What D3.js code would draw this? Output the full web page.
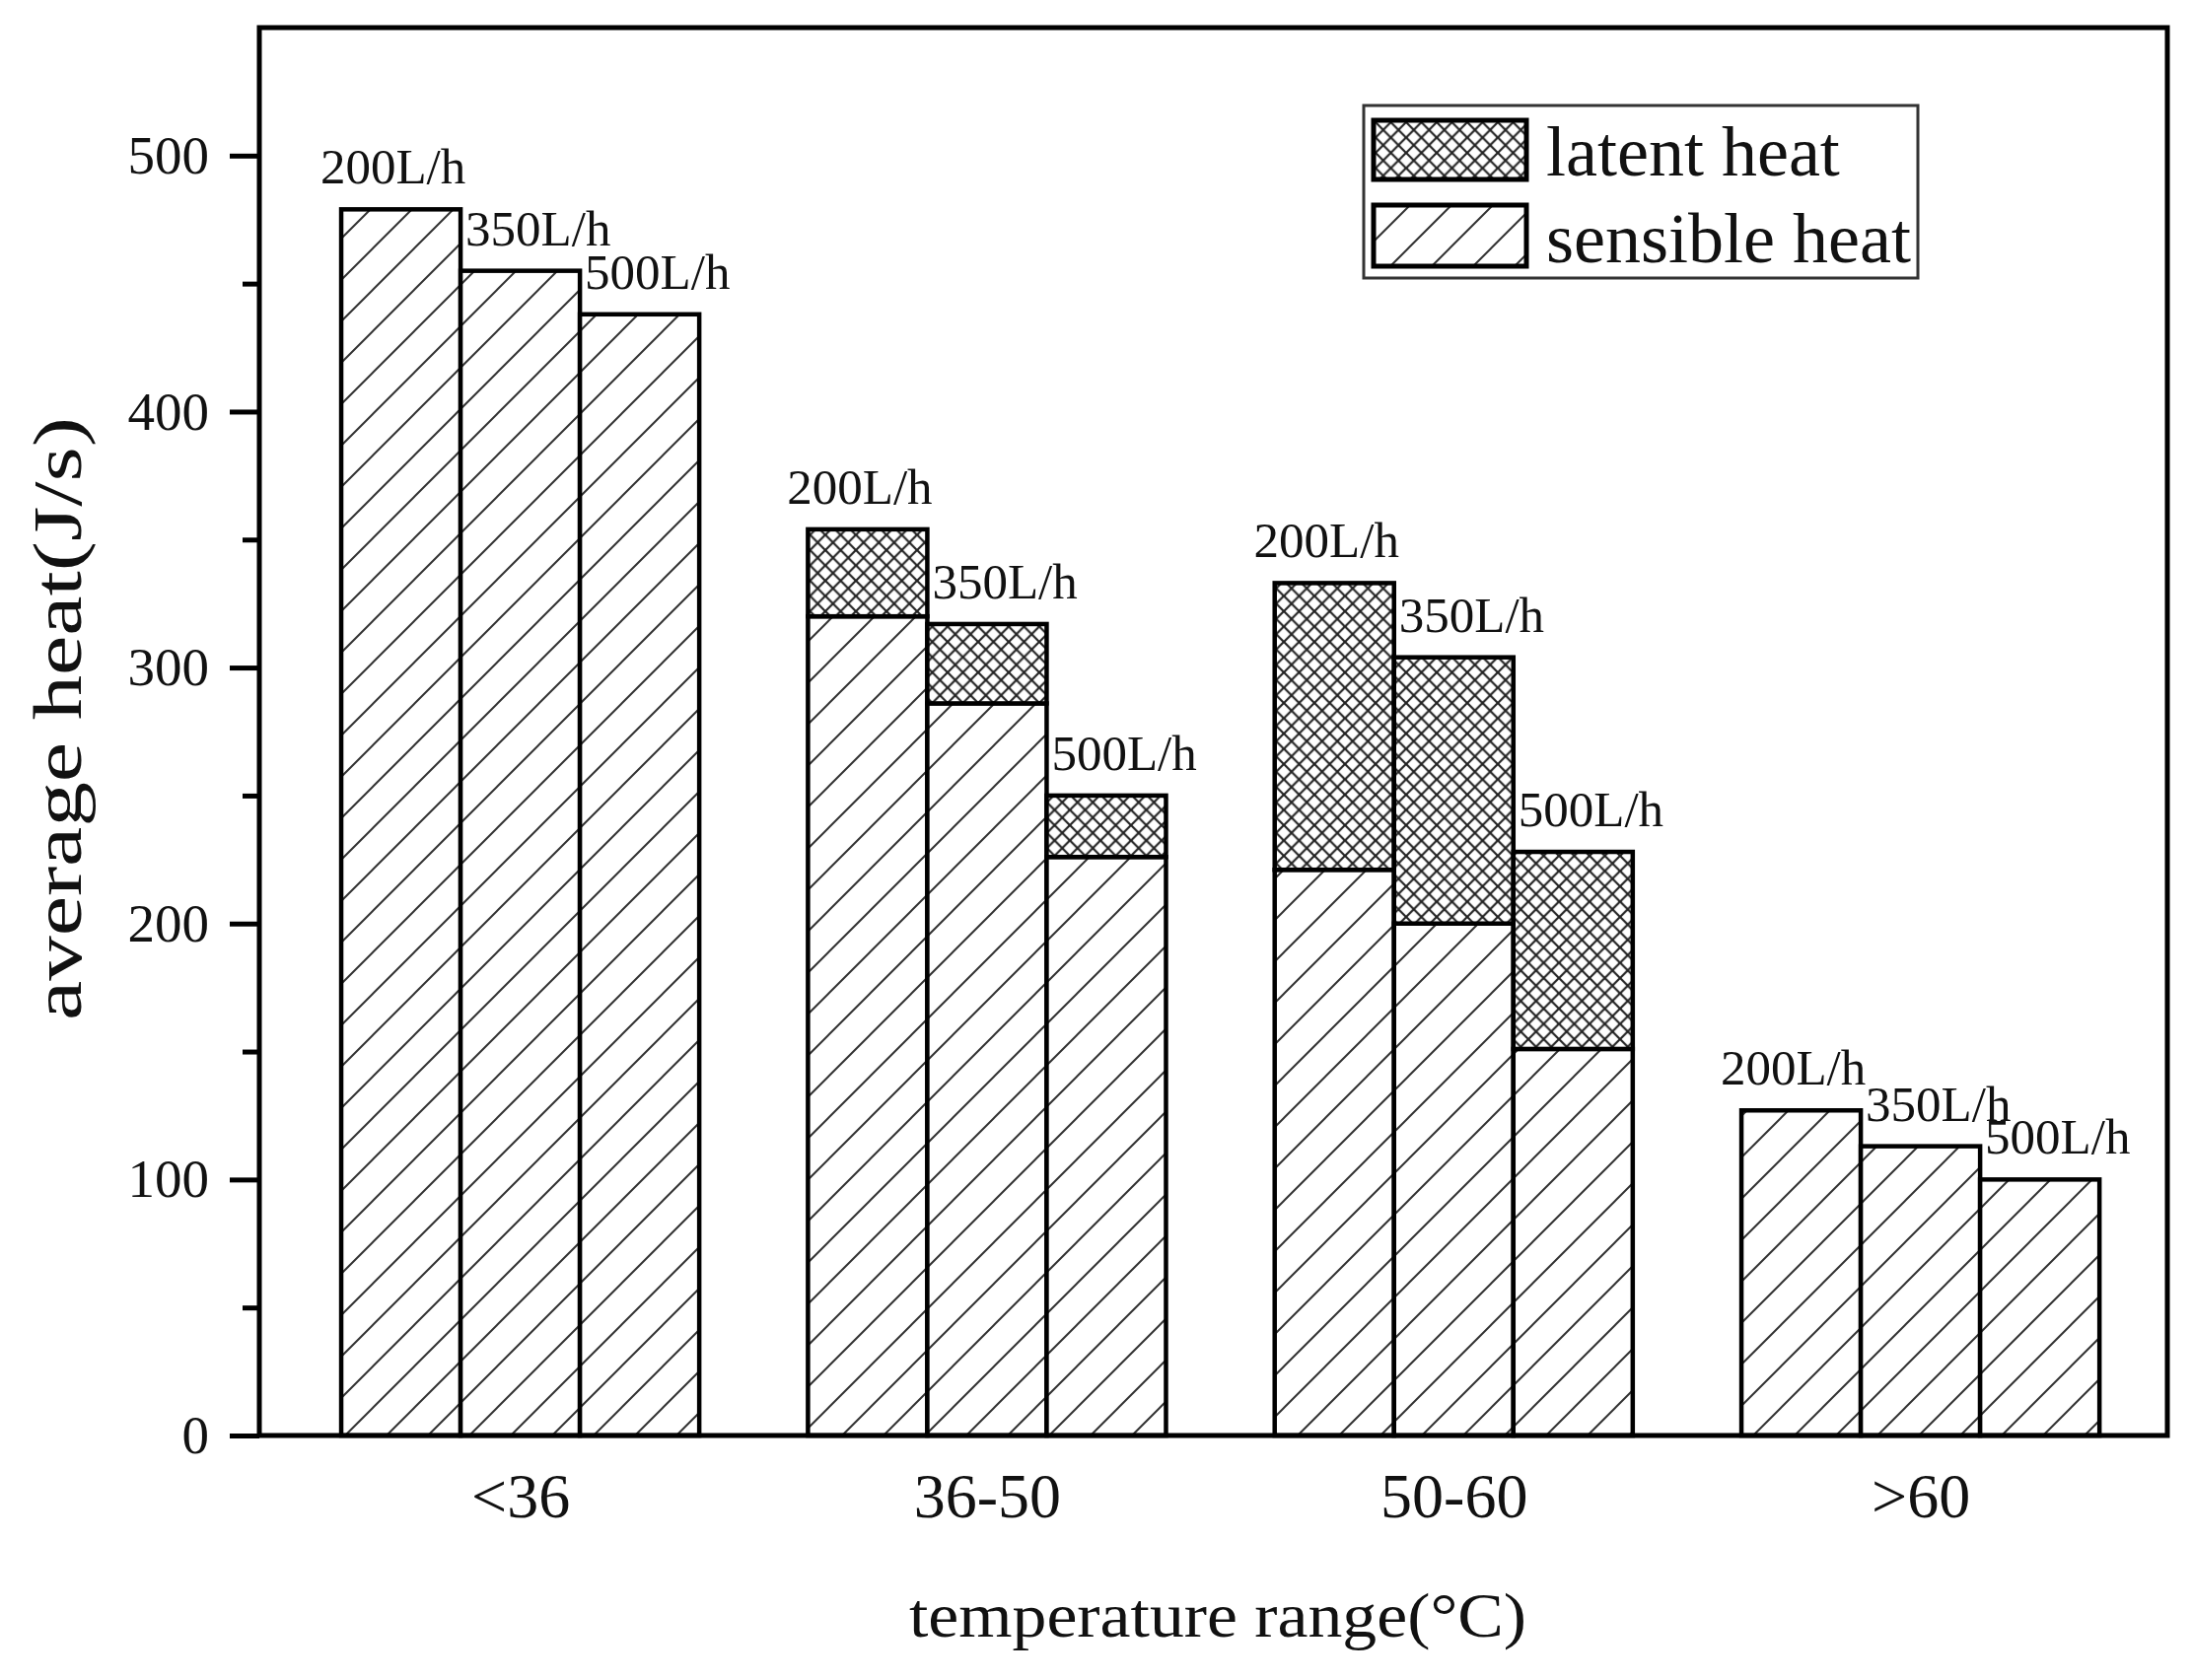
<!DOCTYPE html>
<html>
<head>
<meta charset="utf-8">
<script src="https://cdn.jsdelivr.net/npm/d3@7"></script>
<style>
  html, body { margin: 0; padding: 0; background: #fff; }
  svg { display: block; }
  text { font-family: "Liberation Serif", "Times New Roman", serif; fill: #111; }
</style>
</head>
<body>
<svg id="chart" width="2223" height="1704"></svg>
<script>
// ---------------- data ----------------
const categories = ["<36", "36-50", "50-60", ">60"];
const flows = ["200L/h", "350L/h", "500L/h"];
const sensible200 = [479, 320, 221, 127];
const sensible350 = [455, 286, 200, 113];
const sensible500 = [438, 226, 151, 100];
const latent200 = [0, 34, 112, 0];
const latent350 = [0, 31, 104, 0];
const latent500 = [0, 24, 77, 0];
const yTicks = [0, 100, 200, 300, 400, 500];
const yMinorTicks = [50, 150, 250, 350, 450];
const legendLabels = ["latent heat", "sensible heat"];
const xTitle = "temperature range(°C)";
const yTitle = "average heat(J/s)";

const sensible = [sensible200, sensible350, sensible500];
const latent = [latent200, latent350, latent500];

// ---------------- layout ----------------
const W = 2223, H = 1704;
const plot = { left: 263, right: 2198, top: 28, bottom: 1456 };
const svg = d3.select("#chart");
svg.append("rect").attr("width", W).attr("height", H).attr("fill", "#fff");

const x = d3.scaleLinear().domain([0.441, 4.529]).range([plot.left, plot.right]);
const y = d3.scaleLinear().domain([0, 550]).range([plot.bottom, plot.top]);
const barW = 0.2557; // in category units

// patterns
const defs = svg.append("defs");
const hatch = defs.append("pattern").attr("id", "hatch")
  .attr("patternUnits", "userSpaceOnUse").attr("width", 42).attr("height", 42);
hatch.append("rect").attr("width", 42).attr("height", 42).attr("fill", "#fff");
hatch.append("path")
  .attr("d", "M0,42 L42,0 M-10.5,10.5 L10.5,-10.5 M31.5,52.5 L52.5,31.5")
  .attr("stroke", "#333").attr("stroke-width", 2);

const cross = defs.append("pattern").attr("id", "cross")
  .attr("patternUnits", "userSpaceOnUse").attr("width", 15.5).attr("height", 15.5);
cross.append("rect").attr("width", 15.5).attr("height", 15.5).attr("fill", "#fff");
cross.append("path")
  .attr("d", "M0,0 L15.5,15.5 M15.5,0 L0,15.5")
  .attr("stroke", "#222").attr("stroke-width", 2.2);

// build bar records
const bars = [];
categories.forEach((c, ci) => {
  flows.forEach((f, fi) => {
    const s = sensible[fi][ci], l = latent[fi][ci];
    bars.push({ cat: c, ci, flow: f, fi, s, l, total: s + l });
  });
});
const barLeft = d => x(d.ci + 1 - 1.5 * barW + d.fi * barW);
const barPx = x(1 + barW) - x(1);

const g = svg.append("g");
// sensible segments
g.selectAll("rect.sens").data(bars).join("rect").attr("class", "sens")
  .attr("x", d => barLeft(d)).attr("width", barPx)
  .attr("y", d => y(d.s)).attr("height", d => y(0) - y(d.s))
  .attr("fill", "url(#hatch)").attr("stroke", "#000").attr("stroke-width", 4.5);
// latent segments
g.selectAll("rect.lat").data(bars.filter(d => d.l > 0)).join("rect").attr("class", "lat")
  .attr("x", d => barLeft(d)).attr("width", barPx)
  .attr("y", d => y(d.total)).attr("height", d => y(d.s) - y(d.total))
  .attr("fill", "url(#cross)").attr("stroke", "#000").attr("stroke-width", 4.5);

// bar labels
g.selectAll("text.blab").data(bars).join("text").attr("class", "blab")
  .attr("x", d => d.fi === 0 ? barLeft(d) + barPx / 2 - 8 : barLeft(d) + 5)
  .attr("y", d => y(d.total) - 26)
  .attr("text-anchor", d => d.fi === 0 ? "middle" : "start")
  .attr("font-size", 51)
  .text(d => d.flow);

// y axis
const yAxis = d3.axisLeft(y).tickValues(yTicks).tickSize(30).tickPadding(21).tickFormat(d3.format("d"));
const ya = svg.append("g").attr("transform", `translate(${plot.left},0)`).call(yAxis);
ya.select(".domain").remove();
ya.selectAll(".tick line").attr("stroke", "#000").attr("stroke-width", 5);
ya.selectAll(".tick text").attr("font-size", 55).attr("font-family", "Liberation Serif").attr("fill", "#111");

const yMinor = d3.axisLeft(y).tickValues(yMinorTicks).tickSize(17).tickFormat("");
const ym = svg.append("g").attr("transform", `translate(${plot.left},0)`).call(yMinor);
ym.select(".domain").remove();
ym.selectAll(".tick line").attr("stroke", "#000").attr("stroke-width", 5);

// x axis category labels (no ticks)
const xAxis = d3.axisBottom(x).tickValues([1, 2, 3, 4]).tickSize(0).tickPadding(0)
  .tickFormat(d => categories[d - 1]);
const xa = svg.append("g").attr("transform", `translate(0,${plot.bottom})`).call(xAxis);
xa.select(".domain").remove();
xa.selectAll(".tick text").attr("font-size", 64).attr("font-family", "Liberation Serif")
  .attr("fill", "#111").attr("dy", null).attr("y", 83);

// frame
svg.append("rect")
  .attr("x", plot.left).attr("y", plot.top)
  .attr("width", plot.right - plot.left).attr("height", plot.bottom - plot.top)
  .attr("fill", "none").attr("stroke", "#000").attr("stroke-width", 5);

// axis titles
svg.append("text")
  .attr("x", (922 + 1548) / 2).attr("y", 1660)
  .attr("text-anchor", "middle").attr("font-size", 64)
  .attr("textLength", 626).attr("lengthAdjust", "spacingAndGlyphs")
  .text(xTitle);

// y title: glyphs stretched along the text direction (as in the reference)
const yt = svg.append("text")
  .attr("text-anchor", "middle").attr("font-size", 70)
  .attr("fill", "#222")
  .text(yTitle);
const natural = yt.node().getComputedTextLength() || 472;
const sx = 612 / natural;
yt.attr("transform", `translate(82,729) rotate(-90) scale(${sx},1)`);

// legend
const lg = svg.append("g");
lg.append("rect").attr("x", 1383).attr("y", 107).attr("width", 562).attr("height", 175)
  .attr("fill", "#fff").attr("stroke", "#333").attr("stroke-width", 3);
const legendRows = [
  { label: legendLabels[0], fill: "url(#cross)", y: 122, h: 60 },
  { label: legendLabels[1], fill: "url(#hatch)", y: 208, h: 62 }
];
legendRows.forEach(r => {
  lg.append("rect").attr("x", 1393).attr("y", r.y).attr("width", 155).attr("height", r.h)
    .attr("fill", r.fill).attr("stroke", "#000").attr("stroke-width", 5);
  lg.append("text").attr("x", 1568).attr("y", r.y + r.h - 4)
    .attr("font-size", 72).text(r.label);
});
</script>
</body>
</html>
